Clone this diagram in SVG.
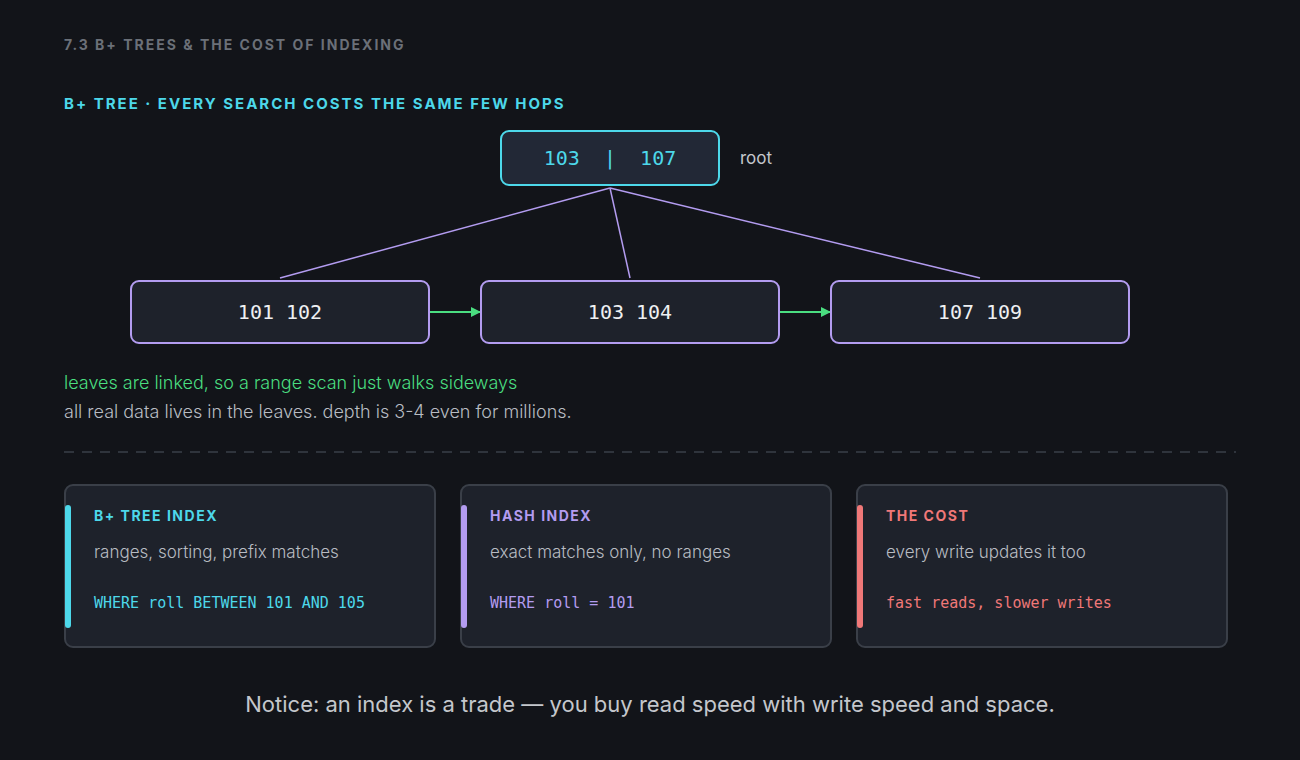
<svg xmlns="http://www.w3.org/2000/svg" width="1300" height="760" viewBox="0 0 1300 760">
<style>
.h{font-family:Inter,"Open Sans",sans-serif;font-weight:700;letter-spacing:2px}
.t{font-family:Inter,"Open Sans",sans-serif;font-weight:300}
.m{font-family:"DejaVu Sans Mono","Liberation Mono",monospace}
.leaf{fill:#1e222b;stroke:#b39cf0;stroke-width:2}
.card{fill:#1e222b;stroke:#3a3f48;stroke-width:2}
</style>
<defs><marker id="ar" markerWidth="10" markerHeight="10" refX="9" refY="5" orient="auto" markerUnits="userSpaceOnUse"><path d="M0,0 L10,5 L0,10 z" fill="#4ade80"/></marker></defs>
<rect width="1300" height="760" fill="#121419"/>
<text x="64" y="50" class="h" font-size="14" fill="#6b7078">7.3  B+ TREES &amp; THE COST OF INDEXING</text>
<text x="64" y="109" class="h" font-size="15" fill="#4dd8ea">B+ TREE  ·  EVERY SEARCH COSTS THE SAME FEW HOPS</text>
<g id="connectors" stroke="#b39cf0" stroke-width="1.5" fill="none">
<line x1="610" y1="188" x2="280" y2="278"/>
<line x1="610" y1="188" x2="630" y2="278"/>
<line x1="610" y1="188" x2="980" y2="278"/>
<line x1="430" y1="312" x2="480" y2="312" stroke="#4ade80" stroke-width="2" marker-end="url(#ar)"/>
<line x1="780" y1="312" x2="830" y2="312" stroke="#4ade80" stroke-width="2" marker-end="url(#ar)"/>
</g>
<g id="root"><rect x="501" y="131" width="218" height="54" rx="8" fill="#222836" stroke="#4dd8ea" stroke-width="2"/>
<text x="610" y="165" class="m" font-size="20" fill="#4dd8ea" text-anchor="middle" xml:space="preserve">103  |  107</text>
<text x="740" y="164" class="t" font-size="17" fill="#c4c7cc" style="font-weight:400">root</text></g>
<g id="leaf1"><rect class="leaf" x="131" y="281" width="298" height="62" rx="8"/><text x="280" y="319" class="m" font-size="20" fill="#eef0f2" text-anchor="middle">101 102</text></g>
<g id="leaf2"><rect class="leaf" x="481" y="281" width="298" height="62" rx="8"/><text x="630" y="319" class="m" font-size="20" fill="#eef0f2" text-anchor="middle">103 104</text></g>
<g id="leaf3"><rect class="leaf" x="831" y="281" width="298" height="62" rx="8"/><text x="980" y="319" class="m" font-size="20" fill="#eef0f2" text-anchor="middle">107 109</text></g>
<text x="64" y="389" class="t" font-size="18" fill="#4ade80">leaves are linked, so a range scan just walks sideways</text>
<text x="64" y="418" class="t" font-size="18" fill="#b8bcc2">all real data lives in the leaves. depth is 3-4 even for millions.</text>
<line x1="64" y1="452" x2="1236" y2="452" stroke="#3a3f48" stroke-width="1.5" stroke-dasharray="10 8"/>
<g id="card1"><rect class="card" x="65" y="485" width="370" height="162" rx="8"/><rect x="65" y="505" width="6" height="123" rx="3" fill="#4dd8ea"/>
<text x="94" y="521" class="h" font-size="14" fill="#4dd8ea" style="letter-spacing:1.5px">B+ TREE INDEX</text>
<text x="94" y="558" class="t" font-size="17" fill="#b8bcc2">ranges, sorting, prefix matches</text>
<text x="94" y="608" class="m" font-size="15" fill="#4dd8ea">WHERE roll BETWEEN 101 AND 105</text></g>
<g id="card2"><rect class="card" x="461" y="485" width="370" height="162" rx="8"/><rect x="461" y="505" width="6" height="123" rx="3" fill="#b39cf0"/>
<text x="490" y="521" class="h" font-size="14" fill="#b39cf0" style="letter-spacing:1.5px">HASH INDEX</text>
<text x="490" y="558" class="t" font-size="17" fill="#b8bcc2">exact matches only, no ranges</text>
<text x="490" y="608" class="m" font-size="15" fill="#b39cf0">WHERE roll = 101</text></g>
<g id="card3"><rect class="card" x="857" y="485" width="370" height="162" rx="8"/><rect x="857" y="505" width="6" height="123" rx="3" fill="#f07878"/>
<text x="886" y="521" class="h" font-size="14" fill="#f07878" style="letter-spacing:1.5px">THE COST</text>
<text x="886" y="558" class="t" font-size="17" fill="#b8bcc2">every write updates it too</text>
<text x="886" y="608" class="m" font-size="15" fill="#f07878">fast reads, slower writes</text></g>
<text x="650" y="712" class="t" font-size="22" fill="#c4c7cc" text-anchor="middle" style="font-weight:400">Notice: an index is a trade — you buy read speed with write speed and space.</text>
</svg>
